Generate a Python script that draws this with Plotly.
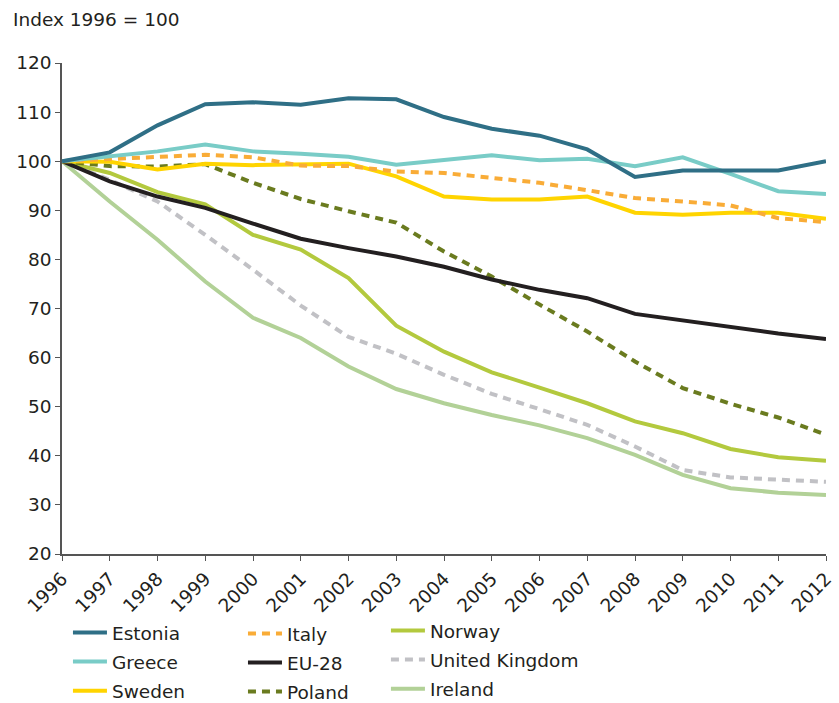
import plotly.graph_objects as go

years = list(range(1996, 2013))

estonia = [100, 101.8, 107.3, 111.6, 112.0, 111.5, 112.8, 112.6, 109.0, 106.6, 105.2, 102.4, 96.8, 98.1, 98.1, 98.1, 100.0]
greece = [100, 101.0, 102.0, 103.4, 102.0, 101.5, 100.9, 99.3, 100.3, 101.2, 100.2, 100.5, 99.0, 100.8, 97.4, 93.9, 93.3]
sweden = [100, 99.9, 98.3, 99.5, 99.2, 99.3, 99.5, 96.9, 92.8, 92.2, 92.2, 92.8, 89.5, 89.1, 89.5, 89.5, 88.3]
italy = [100, 100.5, 101.0, 101.3, 100.8, 99.1, 99.0, 97.9, 97.6, 96.6, 95.6, 94.1, 92.5, 91.8, 91.0, 88.4, 87.6]
eu28 = [100, 95.9, 92.8, 90.5, 87.3, 84.2, 82.3, 80.6, 78.5, 75.9, 73.8, 72.1, 68.9, 67.5, 66.3, 64.9, 63.8]
poland = [100, 99.0, 98.9, 99.4, 95.6, 92.3, 89.8, 87.5, 81.6, 76.5, 70.8, 65.3, 59.2, 53.8, 50.6, 47.8, 44.3]
norway = [100, 97.6, 93.7, 91.2, 85.0, 82.0, 76.2, 66.5, 61.2, 57.0, 53.9, 50.7, 47.0, 44.6, 41.4, 39.7, 39.0]
united_kingdom = [100, 96.2, 91.8, 85.0, 77.9, 70.6, 64.2, 60.8, 56.5, 52.6, 49.5, 46.3, 41.9, 37.1, 35.6, 35.2, 34.7]
ireland = [100, 91.8, 84.0, 75.5, 68.1, 64.0, 58.2, 53.6, 50.7, 48.3, 46.2, 43.6, 40.2, 36.1, 33.4, 32.5, 32.0]

# (name, values, colour, dash, legend column)
series = [
    ("Estonia", estonia, "#2f6f86", "solid", "legend"),
    ("Greece", greece, "#79ccc7", "solid", "legend"),
    ("Sweden", sweden, "#ffd400", "solid", "legend"),
    ("Italy", italy, "#f9ac37", "8px,6px", "legend2"),
    ("EU-28", eu28, "#231f20", "solid", "legend2"),
    ("Poland", poland, "#6a7b1f", "8px,6px", "legend2"),
    ("Norway", norway, "#b3c93e", "solid", "legend3"),
    ("United Kingdom", united_kingdom, "#c1c1c5", "8px,6px", "legend3"),
    ("Ireland", ireland, "#b2d197", "solid", "legend3"),
]

# draw order: light/background series first so darker lines sit on top
draw_order = ["Ireland", "United Kingdom", "Norway", "Poland", "EU-28",
              "Sweden", "Italy", "Greece", "Estonia"]
lookup = {s[0]: s for s in series}
names = [s[0] for s in series]

fig = go.Figure()
for name in draw_order:
    n, vals, col, dash, leg = lookup[name]
    fig.add_trace(go.Scatter(
        x=years, y=vals, name=n, mode="lines",
        line=dict(color=col, width=4, dash=dash),
        legend=leg, legendgroup=n, legendrank=names.index(n),
    ))

font_family = "DejaVu Sans, Verdana, sans-serif"
text_col = "#231f20"
fs = 18.5

legend_common = dict(
    orientation="v", xanchor="left", yanchor="top",
    xref="container", yref="container",
    font=dict(family=font_family, size=fs, color=text_col),
    bgcolor="rgba(0,0,0,0)", traceorder="grouped", tracegroupgap=2,
    itemwidth=34,
)

fig.update_layout(
    width=839, height=703,
    margin=dict(l=62, r=13, t=63, b=149, autoexpand=False),
    paper_bgcolor="white", plot_bgcolor="white",
    font=dict(family=font_family, size=fs, color=text_col),
    xaxis=dict(
        range=[1996, 2012], tickmode="array", tickvals=years,
        ticktext=[str(y) for y in years], tickangle=-45,
        showline=True, linecolor="#555555", linewidth=1.5,
        ticks="outside", ticklen=5, tickcolor="#555555",
        showgrid=False, zeroline=False, automargin=False,
        tickfont=dict(size=fs, color=text_col),
    ),
    yaxis=dict(
        range=[20, 120], tickmode="array", tickvals=list(range(20, 121, 10)),
        showline=True, linecolor="#555555", linewidth=1.5,
        ticks="outside", ticklen=5, tickcolor="#555555",
        showgrid=False, zeroline=False, automargin=False,
        tickfont=dict(size=fs, color=text_col),
    ),
    legend=dict(x=0.081, y=0.1266, **legend_common),
    legend2=dict(x=0.2896, y=0.1252, **legend_common),
    legend3=dict(x=0.46, y=0.1294, **legend_common),
    annotations=[dict(
        text="Index 1996 = 100", xref="paper", yref="paper",
        x=-0.067, y=1.088, xanchor="left", yanchor="middle",
        showarrow=False, font=dict(family=font_family, size=fs, color=text_col),
    )],
    showlegend=True,
)

fig.write_html("out.html")
